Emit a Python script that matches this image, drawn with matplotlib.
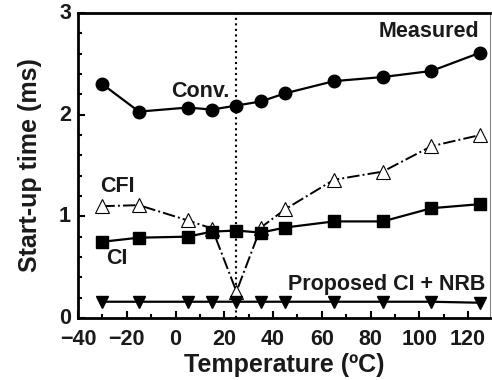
import numpy as np
import matplotlib.pyplot as plt
import matplotlib.transforms as mtrans
from matplotlib.ticker import MultipleLocator

plt.rcParams['font.family'] = ['Liberation Sans', 'DejaVu Sans']
plt.rcParams['font.weight'] = 'bold'
plt.rcParams['axes.labelweight'] = 'bold'

temp = [-30, -15, 5, 15, 25, 35, 45, 65, 85, 105, 125]
conv = [2.30, 2.03, 2.07, 2.05, 2.09, 2.13, 2.21, 2.33, 2.37, 2.43, 2.61]
cfi = [1.10, 1.11, 0.96, 0.88, 0.26, 0.89, 1.07, 1.36, 1.44, 1.69, 1.80]
ci = [0.75, 0.79, 0.80, 0.85, 0.86, 0.84, 0.89, 0.95, 0.95, 1.08, 1.12]
prop = [0.16, 0.16, 0.16, 0.16, 0.16, 0.16, 0.16, 0.16, 0.16, 0.16, 0.15]

fig = plt.figure(figsize=(4.92, 3.8), dpi=100)
ax = fig.add_axes([78/492, 1-318/380, (490-78)/492, (318-13)/380])

txt = '#1a1a1a'
ax.axvline(25, color='black', ls=':', lw=1.5, zorder=1)
ax.plot(temp, conv, '-o', color='black', lw=1.6, ms=9, zorder=3)
ax.plot(temp, cfi, '-.^', color='black', lw=1.4, ms=10, mfc='white', mew=0.8, zorder=3)
ax.plot(temp, ci, '-s', color='black', lw=1.6, ms=8, zorder=4)
ax.plot(temp, prop, '-v', color='black', lw=1.6, ms=9, zorder=3)

ax.set_xlim(-40, 129)
ax.set_ylim(0, 3)
ax.xaxis.set_major_locator(MultipleLocator(20))
ax.xaxis.set_minor_locator(MultipleLocator(10))
ax.yaxis.set_major_locator(MultipleLocator(1))
ax.yaxis.set_minor_locator(MultipleLocator(0.2))
ax.tick_params(which='both', direction='in', top=False, right=False,
               labelsize=15.5, colors='black', labelcolor=txt)
ax.tick_params(axis='x', pad=8)
ax.tick_params(axis='y', pad=5)
ax.tick_params(which='major', length=5, width=1.5)
ax.tick_params(which='minor', length=3, width=1.5)
for side in ['left', 'bottom', 'top']:
    ax.spines[side].set_linewidth(2)
ax.spines['right'].set_linewidth(0.8)
ax.spines['right'].set_color('#888888')

ax.set_xticks([-40, -20, 0, 20, 40, 60, 80, 100, 120])
ax.set_xticklabels(['\u221240', '\u221220', '0', '20', '40', '60', '80', '100', '120'])
# nudge y tick labels up a little so "0" clears "-40"
shift = mtrans.ScaledTranslation(0, 2/100, fig.dpi_scale_trans)
for lb in ax.get_yticklabels():
    lb.set_transform(lb.get_transform() + shift)
ax.set_xlabel('Temperature (\u00baC)', fontsize=18, color=txt, labelpad=2)
ax.set_ylabel('Start-up time (ms)', fontsize=18, color=txt, labelpad=12)

ax.text(0.975, 0.94, 'Measured', transform=ax.transAxes, ha='right', va='center', fontsize=15.5, color=txt)
ax.text(10, 2.23, 'Conv.', ha='center', va='center', fontsize=15.5, color=txt)
ax.text(-24, 1.29, 'CFI', ha='center', va='center', fontsize=15.5, color=txt)
ax.text(-24, 0.59, 'CI', ha='center', va='center', fontsize=15.5, color=txt)
ax.text(127, 0.33, 'Proposed CI + NRB', ha='right', va='center', fontsize=15.5, color=txt)

fig.savefig('out.png', dpi=100)
